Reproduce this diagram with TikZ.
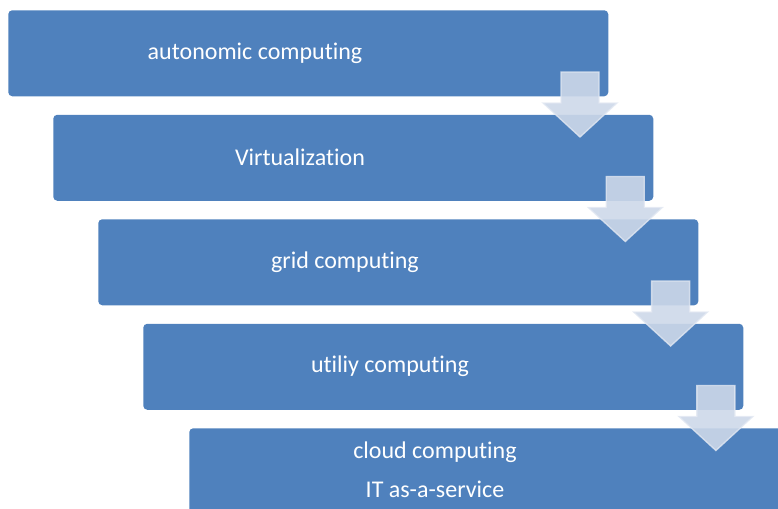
\documentclass[tikz,border=0pt]{standalone}
\usepackage{fontspec}
\setmainfont{Carlito}[Ligatures={NoCommon}]
\definecolor{boxblue}{HTML}{4F81BD}
\definecolor{arrowfill}{HTML}{CDD8E9}
\definecolor{arrowedge}{HTML}{E2E8F2}
\begin{document}
\begin{tikzpicture}[x=0.75pt,y=-0.75pt,
  stepbox/.style={fill=boxblue,draw=none,rounded corners=3pt,minimum width=450pt,minimum height=64.5pt,inner sep=0pt,anchor=north west},
  steptext/.style={text=white,font=\fontsize{18}{22}\selectfont,inner sep=0pt},
  downarrow/.style={fill=arrowfill,fill opacity=0.9,draw=arrowedge,draw opacity=0.8,line width=1pt,line join=miter}]
\useasboundingbox (0,0) rectangle (778,508);
\begin{scope}
\clip (0,0) rectangle (778,508);
\node[stepbox] (b1) at (8,10) {};
\node[steptext] (t1) at (255,53) {autonomic computing};
\node[stepbox] (b2) at (53,114.5) {};
\node[steptext] (t2) at (300,157) {Virtualization};
\node[stepbox] (b3) at (98,219) {};
\node[steptext] (t3) at (345,262) {grid computing};
\node[stepbox] (b4) at (143,323.5) {};
\node[steptext] (t4) at (390,366) {utiliy computing};
\node[stepbox] (b5) at (189,428) {};
\node[steptext] (t5a) at (435,452) {cloud computing};
\node[steptext] (t5b) at (435,489) {IT as-a-service};
\foreach \i in {0,1,2,3}{
  \coordinate (a\i) at ({580+45.3*\i},{72+104.5*\i});
  \draw[downarrow] (a\i) ++(-19,0) -- ++(38,0) -- ++(0,31) -- ++(18,0) -- ++(-37,34) -- ++(-37,-34) -- ++(18,0) -- cycle;
}
\end{scope}
\end{tikzpicture}
\end{document}
